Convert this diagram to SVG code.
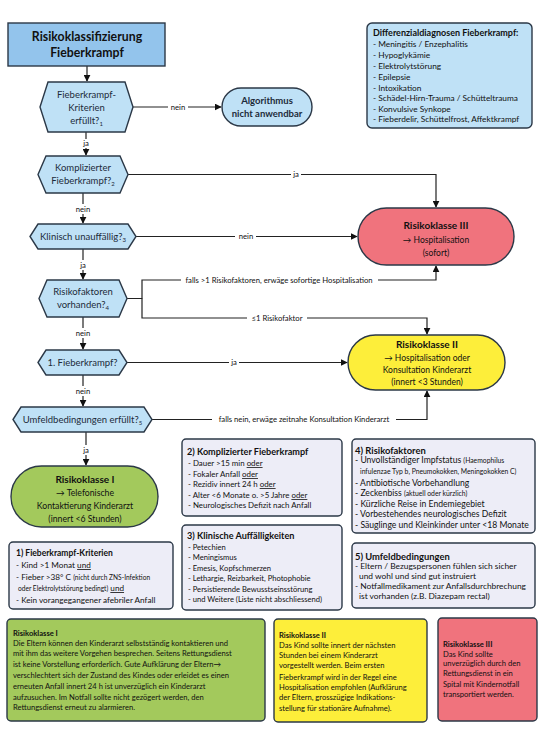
<svg xmlns="http://www.w3.org/2000/svg" width="549" height="730" viewBox="0 0 549 730">
<style>
text{font-family:Lato,"Open Sans","Liberation Sans",sans-serif;fill:#111}
.n{fill:#bfe1f6;stroke:#2b3847;stroke-width:1.4}
.c{text-anchor:middle}
.h{font-size:9.5px;fill:#1d2b3a}
.b{font-weight:bold}
.lbl{font-size:7.7px}
.ln{fill:none;stroke:#222;stroke-width:1.2}
.bx{fill:#ededf7;stroke:#2b3847;stroke-width:1.4}
.s{font-size:6.8px}
.u{text-decoration:underline}
.bt{font-size:7.6px}
</style>
<defs>
<marker id="a" viewBox="0 0 10 10" refX="9" refY="5" markerWidth="7" markerHeight="7" markerUnits="userSpaceOnUse" orient="auto"><path d="M0,0L10,5L0,10z" fill="#111"/></marker>
</defs>
<rect width="549" height="730" fill="#fff"/>
<g id="connectors">
<path class="ln" d="M87,66V81" marker-end="url(#a)"/>
<path class="ln" d="M133,107H221" marker-end="url(#a)"/>
<path class="ln" d="M86,132V155" marker-end="url(#a)"/>
<path class="ln" d="M128,174.5H436V207" marker-end="url(#a)"/>
<path class="ln" d="M83,193V223" marker-end="url(#a)"/>
<path class="ln" d="M136,236.5H357" marker-end="url(#a)"/>
<path class="ln" d="M83,249V279" marker-end="url(#a)"/>
<path class="ln" d="M127,298.5H142V280H436V266" marker-end="url(#a)"/>
<path class="ln" d="M142,298.5V318H427V334" marker-end="url(#a)"/>
<path class="ln" d="M83,317V349" marker-end="url(#a)"/>
<path class="ln" d="M127,362.5H347" marker-end="url(#a)"/>
<path class="ln" d="M83,375V406" marker-end="url(#a)"/>
<path class="ln" d="M152,419.5H427V391" marker-end="url(#a)"/>
<path class="ln" d="M86,432V465" marker-end="url(#a)"/>
<g fill="#fff">
<rect x="168" y="102" width="20" height="10"/>
<rect x="81" y="139" width="10" height="9"/>
<rect x="291" y="169" width="10" height="10"/>
<rect x="73" y="204" width="20" height="10"/>
<rect x="235" y="231" width="21" height="10"/>
<rect x="78" y="260" width="10" height="10"/>
<rect x="181" y="275" width="197" height="10"/>
<rect x="247" y="313" width="60" height="10"/>
<rect x="73" y="328" width="20" height="10"/>
<rect x="229" y="357" width="10" height="10"/>
<rect x="73" y="386" width="20" height="10"/>
<rect x="212" y="414" width="184" height="10"/>
<rect x="81" y="445" width="10" height="10"/>
</g>
<g class="lbl c">
<text x="178" y="110">nein</text>
<text x="86" y="146">ja</text>
<text x="296" y="177">ja</text>
<text x="83" y="212">nein</text>
<text x="246" y="239">nein</text>
<text x="83" y="268">ja</text>
<text x="279" y="283">falls &gt;1 Risikofaktoren, erwäge sofortige Hospitalisation</text>
<text x="277" y="321">≤1 Risikofaktor</text>
<text x="83" y="336">nein</text>
<text x="234" y="365">ja</text>
<text x="83" y="394">nein</text>
<text x="304" y="422">falls nein, erwäge zeitnahe Konsultation Kinderarzt</text>
<text x="86" y="453">ja</text>
</g>
</g>
<g id="title">
<rect x="8" y="23" width="157" height="43" fill="#93c4ec" stroke="#2b3847" stroke-width="1.4"/>
<text class="c b" x="87" y="41" font-size="12.3" fill="#1d2b3a">Risikoklassifizierung</text>
<text class="c b" x="87" y="57" font-size="12.3" fill="#1d2b3a">Fieberkrampf</text>
</g>
<g id="diff">
<rect x="367" y="23" width="165" height="105" rx="5" class="n"/>
<g font-size="8.3">
<text x="373" y="36" class="b" font-size="9">Differenzialdiagnosen Fieberkrampf:</text>
<text x="373" y="47">- Meningitis / Enzephalitis</text>
<text x="373" y="58">- Hypoglykämie</text>
<text x="373" y="69">- Elektrolytstörung</text>
<text x="373" y="80">- Epilepsie</text>
<text x="373" y="91">- Intoxikation</text>
<text x="373" y="101">- Schädel-Hirn-Trauma / Schütteltrauma</text>
<text x="373" y="112">- Konvulsive Synkope</text>
<text x="373" y="122">- Fieberdelir, Schüttelfrost, Affektkrampf</text>
</g>
</g>
<g id="q1">
<path class="n" d="M40,107L48,82H125L133,107L125,132H48Z"/>
<text class="c h" x="86.5" y="98">Fieberkrampf-</text>
<text class="c h" x="86.5" y="111">Kriterien</text>
<text class="c h" x="86.5" y="124">erfüllt?<tspan font-size="6" dy="2">1</tspan></text>
</g>
<g id="na">
<rect x="222" y="88" width="90" height="38" rx="19" class="n"/>
<text class="c b h" x="267" y="104">Algorithmus</text>
<text class="c b h" x="267" y="117">nicht anwendbar</text>
</g>
<g id="q2">
<path class="n" d="M38,174.5L46,156H120L128,174.5L120,193H46Z"/>
<text class="c h" x="83" y="171">Komplizierter</text>
<text class="c h" x="83" y="184">Fieberkrampf?<tspan font-size="6" dy="2">2</tspan></text>
</g>
<g id="q3">
<path class="n" d="M30,236.5L38,224H128L136,236.5L128,249H38Z"/>
<text class="c h" x="83" y="240">Klinisch unauffällig?<tspan font-size="6" dy="2">3</tspan></text>
</g>
<g id="q4">
<path class="n" d="M39,298.5L47,280H119L127,298.5L119,317H47Z"/>
<text class="c h" x="83" y="295">Risikofaktoren</text>
<text class="c h" x="83" y="308">vorhanden?<tspan font-size="6" dy="2">4</tspan></text>
</g>
<g id="q5">
<path class="n" d="M38,362.5L46,350H119L127,362.5L119,375H46Z"/>
<text class="c h" x="82.5" y="366">1. Fieberkrampf?</text>
</g>
<g id="q6">
<path class="n" d="M13,419.5L21,407H144L152,419.5L144,432H21Z"/>
<text class="c h" x="82.5" y="423">Umfeldbedingungen erfüllt?<tspan font-size="6" dy="2">5</tspan></text>
</g>
<g id="rk3">
<rect x="358" y="208" width="156" height="57" rx="28.5" fill="#f0737d" stroke="#2b3847" stroke-width="1.4"/>
<text class="c b" x="436" y="229" font-size="10">Risikoklasse III</text>
<text class="c" x="436" y="243" font-size="8.5">→ Hospitalisation</text>
<text class="c" x="436" y="256" font-size="8.5">(sofort)</text>
</g>
<g id="rk2">
<rect x="348" y="335" width="157" height="55" rx="27.5" fill="#fdee3a" stroke="#2b3847" stroke-width="1.4"/>
<text class="c b" x="427" y="348" font-size="10">Risikoklasse II</text>
<text class="c" x="427" y="361" font-size="8.5">→ Hospitalisation oder</text>
<text class="c" x="427" y="373" font-size="8.5">Konsultation Kinderarzt</text>
<text class="c" x="427" y="385" font-size="8.5">(innert &lt;3 Stunden)</text>
</g>
<g id="rk1">
<rect x="11" y="466" width="147" height="61" rx="30.5" fill="#a3c95c" stroke="#2b3847" stroke-width="1.4"/>
<text class="c b" x="85" y="483" font-size="10">Risikoklasse I</text>
<text class="c" x="85" y="496" font-size="8.7">→ Telefonische</text>
<text class="c" x="85" y="509" font-size="8.7">Kontaktierung Kinderarzt</text>
<text class="c" x="85" y="522" font-size="8.7">(innert &lt;6 Stunden)</text>
</g>
<g id="box1" font-size="8.2">
<rect x="9" y="542" width="164" height="67" rx="4" class="bx"/>
<text x="16" y="556" class="b" font-size="8.5">1) Fieberkrampf-Kriterien</text>
<text x="16" y="568">- Kind &gt;1 Monat <tspan class="u">und</tspan></text>
<text x="16" y="580">- Fieber &gt;38° C <tspan font-size="6.6">(nicht durch ZNS-Infektion</tspan></text>
<text x="18" y="591"><tspan font-size="6.6">oder Elektrolytstörung bedingt)</tspan> <tspan class="u">und</tspan></text>
<text x="16" y="603">- Kein vorangegangener afebriler Anfall</text>
</g>
<g id="box2" font-size="7.9">
<rect x="182" y="439" width="160" height="77" rx="4" class="bx"/>
<text x="187" y="455" class="b" font-size="9.1">2) Komplizierter Fieberkrampf</text>
<text x="188" y="466">- Dauer &gt;15 min <tspan class="u">oder</tspan></text>
<text x="188" y="477">- Fokaler Anfall <tspan class="u">oder</tspan></text>
<text x="188" y="487">- Rezidiv innert 24 h <tspan class="u">oder</tspan></text>
<text x="188" y="498">- Alter &lt;6 Monate o. &gt;5 Jahre <tspan class="u">oder</tspan></text>
<text x="188" y="508">- Neurologisches Defizit nach Anfall</text>
</g>
<g id="box3" font-size="7.6">
<rect x="182" y="525" width="160" height="85" rx="4" class="bx"/>
<text x="187" y="539" class="b" font-size="9.1">3) Klinische Auffälligkeiten</text>
<text x="188" y="550">- Petechien</text>
<text x="188" y="560">- Meningismus</text>
<text x="188" y="571">- Emesis, Kopfschmerzen</text>
<text x="188" y="581">- Lethargie, Reizbarkeit, Photophobie</text>
<text x="188" y="592">- Persistierende Bewusstseinsstörung</text>
<text x="188" y="602">- und Weitere (Liste nicht abschliessend)</text>
</g>
<g id="box4" font-size="8.6">
<rect x="352" y="439" width="183" height="94" rx="4" class="bx"/>
<text x="355" y="454" class="b" font-size="9.4">4) Risikofaktoren</text>
<text x="355" y="463">- Unvollständiger Impfstatus <tspan class="s">(Haemophilus</tspan></text>
<text x="360" y="474" class="s">infulenzae Typ b, Pneumokokken, Meningokokken C)</text>
<text x="355" y="486">- Antibiotische Vorbehandlung</text>
<text x="355" y="496">- Zeckenbiss <tspan class="s">(aktuell oder kürzlich)</tspan></text>
<text x="355" y="507">- Kürzliche Reise in Endemiegebiet</text>
<text x="355" y="517">- Vorbestehendes neurologisches Defizit</text>
<text x="355" y="528">- Säuglinge und Kleinkinder unter &lt;18 Monate</text>
</g>
<g id="box5" font-size="8.4">
<rect x="352" y="543" width="183" height="65" rx="4" class="bx"/>
<text x="355" y="560" class="b" font-size="9.4">5) Umfeldbedingungen</text>
<text x="355" y="569">- Eltern / Bezugspersonen fühlen sich sicher</text>
<text x="359" y="579">und wohl und sind gut instruiert</text>
<text x="355" y="589">- Notfallmedikament zur Anfallsdurchbrechung</text>
<text x="359" y="599">ist vorhanden (z.B. Diazepam rectal)</text>
</g>
<g id="info1">
<rect x="7" y="619" width="258" height="102" rx="4" fill="#a3c95c" stroke="#2b3847" stroke-width="1.4"/>
<g class="bt">
<text x="13" y="636" class="b">Risikoklasse I</text>
<text x="13" y="646">Die Eltern können den Kinderarzt selbstständig kontaktieren und</text>
<text x="13" y="656">mit ihm das weitere Vorgehen besprechen. Seitens Rettungsdienst</text>
<text x="13" y="667">ist keine Vorstellung erforderlich. Gute Aufklärung der Eltern→</text>
<text x="13" y="678">verschlechtert sich der Zustand des Kindes oder erleidet es einen</text>
<text x="13" y="689">erneuten Anfall innert 24 h ist unverzüglich ein Kinderarzt</text>
<text x="13" y="700">aufzusuchen. Im Notfall sollte nicht gezögert werden, den</text>
<text x="13" y="710">Rettungsdienst erneut zu alarmieren.</text>
</g>
</g>
<g id="info2">
<rect x="274" y="619" width="153" height="103" rx="4" fill="#fdee3a" stroke="#2b3847" stroke-width="1.4"/>
<g class="bt">
<text x="279" y="638" class="b">Risikoklasse II</text>
<text x="279" y="648">Das Kind sollte innert der nächsten</text>
<text x="279" y="658">Stunden bei einem Kinderarzt</text>
<text x="279" y="668">vorgestellt werden. Beim ersten</text>
<text x="279" y="680">Fieberkrampf wird in der Regel eine</text>
<text x="279" y="690">Hospitalisation empfohlen (Aufklärung</text>
<text x="279" y="700">der Eltern, grosszügige Indikations-</text>
<text x="279" y="711">stellung für stationäre Aufnahme).</text>
</g>
</g>
<g id="info3">
<rect x="438" y="618" width="99" height="103" rx="4" fill="#f0737d" stroke="#2b3847" stroke-width="1.4"/>
<g class="bt" style="fill:#3a0d12">
<text x="443" y="647" class="b">Risikoklasse III</text>
<text x="443" y="657">Das Kind sollte</text>
<text x="443" y="666">unverzüglich durch den</text>
<text x="443" y="676">Rettungsdienst in ein</text>
<text x="443" y="687">Spital mit Kindernotfall</text>
<text x="443" y="697">transportiert werden.</text>
</g>
</g>
</svg>
